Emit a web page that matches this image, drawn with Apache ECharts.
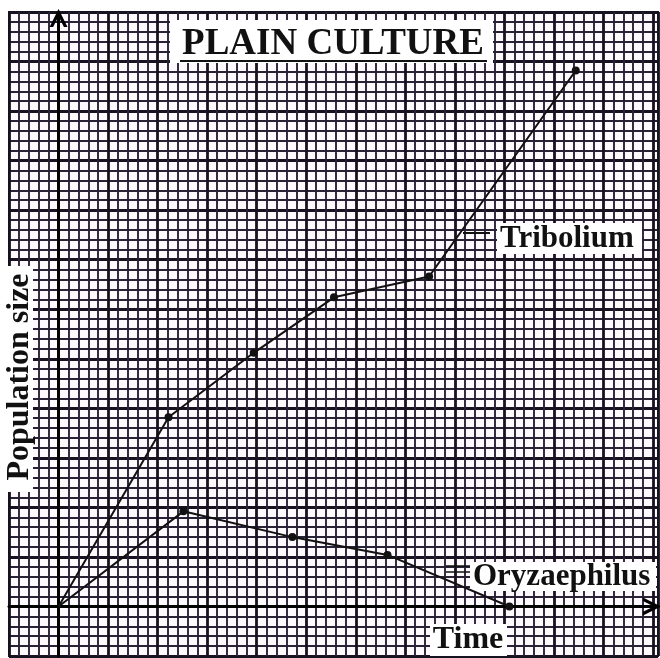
<!DOCTYPE html>
<html>
<head>
<meta charset="utf-8">
<style>
    html, body { margin: 0; padding: 0; background: #fff; }
    #main { width: 660px; height: 658px; }
</style>
<script src="https://cdn.jsdelivr.net/npm/echarts@6/dist/echarts.min.js"></script>
</head>
<body>
<div id="main"></div>
<script>
    // values (1 unit = one small square)
    var tribX = [0, 11.1, 19.7, 27.8, 37.4, 52.2];
    var tribY = [0, 19.1, 25.6, 31.2, 33.3, 54.1];
    var oryzX = [0, 12.6, 23.6, 33.2, 45.5];
    var oryzY = [0, 9.6, 7.0, 5.2, 0];

    function pairs(xs, ys) {
        var out = [];
        for (var i = 0; i < xs.length; i++) {
            out.push([xs[i], ys[i]]);
        }
        return out;
    }

    var serif = '"Liberation Serif", "DejaVu Serif", serif';
    // open chevron arrow head, like the hand drawn one
    var arrow = 'path://M0,12 L6,0 L12,12 L9.6,12 L6,4.8 L2.4,12 Z';

    var myChart = echarts.init(document.getElementById('main'));

    function paperAxis(min, max) {
        return {
            type: 'value',
            min: min,
            max: max,
            interval: 5,
            axisLine: {
                onZero: true,
                symbol: ['none', arrow],
                symbolSize: [18, 20],
                symbolOffset: [0, -6],
                lineStyle: { color: '#000', width: 3 }
            },
            axisTick: { show: false },
            axisLabel: { show: false },
            splitLine: { show: true, lineStyle: { color: '#17121f', width: 2.8 } },
            minorTick: { show: false, splitNumber: 5 },
            minorSplitLine: { show: true, lineStyle: { color: '#282236', width: 1.9 } }
        };
    }

    var option = {
        backgroundColor: '#fff',
        animation: false,
        grid: {
            left: 9, right: 2, top: 12, bottom: 2,
            show: true,
            backgroundColor: '#fdf9fd',
            borderColor: '#17121f',
            borderWidth: 2
        },
        xAxis: paperAxis(-5, 60.5),
        yAxis: paperAxis(-5, 60),
        graphic: [
            // title
            { type: 'rect', z: 1, shape: { x: 170, y: 20, width: 323, height: 43 }, style: { fill: '#fff' } },
            { type: 'text', z: 3, x: 333, y: 44, style: { text: 'PLAIN CULTURE', font: 'bold 37px ' + serif, fill: '#111', align: 'center', verticalAlign: 'middle' } },
            { type: 'line', z: 3, shape: { x1: 180, y1: 61, x2: 487, y2: 61 }, style: { stroke: '#111', lineWidth: 2 } },
            // Tribolium label
            { type: 'rect', z: 1, shape: { x: 497, y: 223, width: 145, height: 31 }, style: { fill: '#fff' } },
            { type: 'text', z: 3, x: 500, y: 239, style: { text: 'Tribolium', font: 'bold 31px ' + serif, fill: '#111', align: 'left', verticalAlign: 'middle' } },
            { type: 'line', z: 3, shape: { x1: 463, y1: 233, x2: 490, y2: 233 }, style: { stroke: '#111', lineWidth: 2 } },
            // Oryzaephilus label
            { type: 'rect', z: 1, shape: { x: 470, y: 562, width: 186, height: 29 }, style: { fill: '#fff' } },
            { type: 'text', z: 3, x: 473, y: 577, style: { text: 'Oryzaephilus', font: 'bold 31px ' + serif, fill: '#111', align: 'left', verticalAlign: 'middle' } },
            { type: 'line', z: 3, shape: { x1: 446, y1: 566, x2: 470, y2: 566 }, style: { stroke: '#111', lineWidth: 1.5 } },
            { type: 'line', z: 3, shape: { x1: 446, y1: 572, x2: 470, y2: 572 }, style: { stroke: '#111', lineWidth: 1.5 } },
            // axis names
            { type: 'rect', z: 1, shape: { x: 430, y: 624, width: 77, height: 32 }, style: { fill: '#fff' } },
            { type: 'text', z: 3, x: 468, y: 640, style: { text: 'Time', font: 'bold 32px ' + serif, fill: '#111', align: 'center', verticalAlign: 'middle' } },
            { type: 'rect', z: 1, shape: { x: 5, y: 266, width: 28, height: 226 }, style: { fill: '#fff' } },
            { type: 'text', z: 3, x: 20, y: 377, rotation: Math.PI / 2, style: { text: 'Population size', font: 'bold 32px ' + serif, fill: '#111', align: 'center', verticalAlign: 'middle' } }
        ],
        series: [
            {
                name: 'Tribolium',
                type: 'line',
                data: pairs(tribX, tribY),
                symbol: 'circle',
                symbolSize: function (v) { return v[0] === 0 ? 0 : 8; },
                itemStyle: { color: '#111' },
                lineStyle: { color: '#111', width: 2 }
            },
            {
                name: 'Oryzaephilus',
                type: 'line',
                data: pairs(oryzX, oryzY),
                symbol: 'circle',
                symbolSize: function (v) { return v[0] === 0 ? 0 : 8; },
                itemStyle: { color: '#111' },
                lineStyle: { color: '#111', width: 2 }
            }
        ]
    };
    myChart.setOption(option);
</script>
</body>
</html>
